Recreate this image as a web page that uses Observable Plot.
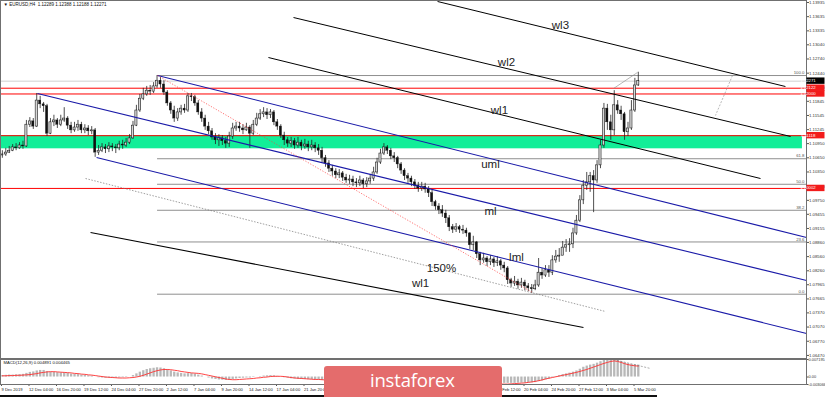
<!DOCTYPE html>
<html>
<head>
<meta charset="utf-8">
<script src="https://cdn.jsdelivr.net/npm/d3@7"></script>
<script src="https://cdn.jsdelivr.net/npm/@observablehq/plot@0.6"></script>
<style>
  html, body { margin:0; padding:0; background:#fff; }
  #chart { position:relative; width:825px; height:397px; overflow:hidden; background:#fff; }
  #chart svg { position:absolute; left:0; overflow:visible; }
  #wm { position:absolute; left:324px; top:366px; width:178px; height:31px; background:#e46c6c; border-radius:3px 3px 0 0; }
  #wm span { position:absolute; left:46px; top:0px; font-family:"Open Sans", sans-serif; font-size:18.5px; color:#fff; letter-spacing:-0.2px; line-height:27px; white-space:nowrap; }
  #baseline { position:absolute; left:0; top:395px; width:657px; height:1.5px; background:#111; }
</style>
</head>
<body>
<div id="chart"></div>
<script>
// ---------------- DATA ----------------
const titleText = "\u25BC EURUSD,H4  1.12289 1.12388 1.12188 1.12271";
const macdTitle = "MACD(12,26,9) 0.004891 0.004465";

// 8-hour candles (each spans two H4 bars)
const firstOpen = 1.1070;
const closes = [
1.1072,1.1076,1.1080,1.1087,1.1085,1.1091,1.1089,1.1135,1.1142,1.1131,
1.1186,1.1178,1.1174,1.1116,1.1140,1.1144,1.1135,1.1144,1.1148,1.1133,
1.1123,1.1129,1.1135,1.1123,1.1127,1.1121,1.1123,1.1076,1.1080,1.1087,
1.1083,1.1089,1.1087,1.1085,1.1093,1.1091,1.1097,1.1106,1.1133,1.1165,
1.1190,1.1199,1.1207,1.1205,1.1216,1.1228,1.1220,1.1203,1.1180,1.1165,
1.1148,1.1161,1.1169,1.1165,1.1195,1.1193,1.1180,1.1161,1.1148,1.1131,
1.1121,1.1108,1.1102,1.1106,1.1100,1.1095,1.1110,1.1127,1.1131,1.1127,
1.1123,1.1129,1.1116,1.1135,1.1148,1.1157,1.1161,1.1155,1.1161,1.1140,
1.1131,1.1112,1.1102,1.1095,1.1100,1.1091,1.1097,1.1089,1.1093,1.1087,
1.1091,1.1085,1.1080,1.1064,1.1053,1.1042,1.1036,1.1028,1.1032,1.1023,
1.1017,1.1019,1.1013,1.1011,1.1017,1.1009,1.1015,1.1021,1.1034,1.1055,
1.1074,1.1087,1.1080,1.1068,1.1064,1.1051,1.1038,1.1026,1.1021,1.1013,
1.1006,1.1000,1.1004,1.0998,1.0990,1.0971,1.0962,1.0954,1.0947,1.0937,
1.0918,1.0913,1.0918,1.0913,1.0911,1.0905,1.0880,1.0886,1.0861,1.0848,
1.0852,1.0844,1.0850,1.0842,1.0846,1.0837,1.0831,1.0806,1.0799,1.0803,
1.0795,1.0801,1.0793,1.0789,1.0787,1.0795,1.0822,1.0816,1.0827,1.0822,
1.0848,1.0856,1.0858,1.0875,1.0880,1.0882,1.0905,1.0932,1.0975,1.1006,
1.1013,1.1026,1.1017,1.1049,1.1091,1.1169,1.1140,1.1123,1.1176,1.1165,
1.1157,1.1119,1.1127,1.1165,1.1218,1.1227];
const highs = [
1.1080,1.1085,1.1089,1.1093,1.1095,1.1097,1.1100,1.1144,1.1150,1.1148,
1.1201,1.1195,1.1182,1.1178,1.1148,1.1155,1.1148,1.1155,1.1171,1.1152,
1.1140,1.1140,1.1144,1.1140,1.1135,1.1133,1.1131,1.1127,1.1091,1.1095,
1.1093,1.1097,1.1095,1.1093,1.1100,1.1102,1.1106,1.1114,1.1142,1.1176,
1.1199,1.1212,1.1216,1.1218,1.1224,1.1239,1.1235,1.1228,1.1207,1.1184,
1.1174,1.1169,1.1176,1.1178,1.1201,1.1201,1.1197,1.1186,1.1169,1.1155,
1.1140,1.1127,1.1116,1.1114,1.1112,1.1108,1.1119,1.1138,1.1140,1.1140,
1.1135,1.1138,1.1133,1.1144,1.1159,1.1167,1.1171,1.1169,1.1167,1.1165,
1.1146,1.1135,1.1119,1.1108,1.1108,1.1106,1.1108,1.1102,1.1104,1.1100,
1.1102,1.1097,1.1093,1.1087,1.1070,1.1059,1.1049,1.1042,1.1040,1.1036,
1.1030,1.1028,1.1026,1.1021,1.1026,1.1021,1.1023,1.1030,1.1045,1.1064,
1.1083,1.1095,1.1091,1.1085,1.1076,1.1068,1.1055,1.1042,1.1032,1.1026,
1.1019,1.1013,1.1013,1.1011,1.1004,1.0996,1.0975,1.0968,1.0964,1.0954,
1.0943,1.0924,1.0926,1.0922,1.0922,1.0916,1.0907,1.0899,1.0888,1.0865,
1.0863,1.0856,1.0858,1.0854,1.0856,1.0850,1.0844,1.0835,1.0810,1.0814,
1.0808,1.0810,1.0806,1.0799,1.0797,1.0806,1.0852,1.0831,1.0837,1.0837,
1.0858,1.0869,1.0873,1.0888,1.0892,1.0894,1.0916,1.0943,1.0985,1.1017,
1.1034,1.1034,1.1038,1.1059,1.1102,1.1180,1.1178,1.1155,1.1207,1.1186,
1.1174,1.1161,1.1140,1.1186,1.1233,1.1246];
const lows = [
1.1064,1.1068,1.1074,1.1078,1.1080,1.1083,1.1083,1.1087,1.1129,1.1125,
1.1129,1.1169,1.1161,1.1110,1.1114,1.1131,1.1127,1.1131,1.1140,1.1125,
1.1116,1.1119,1.1121,1.1116,1.1116,1.1112,1.1114,1.1066,1.1070,1.1076,
1.1074,1.1076,1.1078,1.1074,1.1080,1.1083,1.1087,1.1093,1.1104,1.1131,
1.1161,1.1186,1.1195,1.1197,1.1201,1.1212,1.1212,1.1197,1.1174,1.1157,
1.1140,1.1142,1.1155,1.1159,1.1161,1.1184,1.1174,1.1155,1.1140,1.1123,
1.1114,1.1102,1.1093,1.1089,1.1091,1.1085,1.1087,1.1104,1.1121,1.1119,
1.1114,1.1121,1.1085,1.1112,1.1131,1.1144,1.1150,1.1146,1.1148,1.1133,
1.1123,1.1106,1.1091,1.1087,1.1087,1.1083,1.1085,1.1080,1.1083,1.1078,
1.1080,1.1076,1.1070,1.1055,1.1045,1.1034,1.1026,1.1021,1.1021,1.1015,
1.1011,1.1009,1.1004,1.1002,1.1004,1.1000,1.1002,1.1009,1.1015,1.1030,
1.1051,1.1070,1.1072,1.1061,1.1055,1.1042,1.1030,1.1017,1.1011,1.1004,
1.0998,1.0992,1.0994,1.0990,1.0981,1.0962,1.0954,1.0945,1.0939,1.0926,
1.0909,1.0905,1.0907,1.0905,1.0903,1.0897,1.0871,1.0869,1.0852,1.0837,
1.0842,1.0835,1.0837,1.0833,1.0835,1.0827,1.0822,1.0797,1.0791,1.0793,
1.0787,1.0789,1.0784,1.0782,1.0778,1.0784,1.0791,1.0808,1.0812,1.0812,
1.0816,1.0842,1.0844,1.0858,1.0865,1.0865,1.0873,1.0901,1.0928,1.0966,
1.0996,1.0992,1.0949,1.1011,1.1042,1.1085,1.1123,1.1102,1.1112,1.1157,
1.1144,1.1102,1.1110,1.1123,1.1161,1.1216];

// MACD main (histogram) and signal, one value per 8h candle
const macdHist = [
0.0006,0.0007,0.0008,0.0008,0.0009,0.0010,0.0011,0.0015,
0.0019,0.0021,0.0025,0.0027,0.0027,0.0022,0.0020,0.0019,0.0018,
0.0017,0.0017,0.0015,0.0012,0.0011,0.0010,0.0008,0.0007,0.0005,0.0004,
0.0000,-0.0003,-0.0004,-0.0005,-0.0005,-0.0005,-0.0005,-0.0004,-0.0003,-0.0002,0.0000,
0.0006,0.0013,0.0020,0.0026,0.0031,0.0034,0.0036,0.0038,0.0037,0.0034,
0.0030,0.0025,0.0020,0.0017,0.0015,0.0013,0.0014,0.0014,0.0012,
0.0008,0.0004,0.0000,-0.0004,-0.0008,-0.0010,-0.0012,-0.0013,-0.0014,-0.0013,
-0.0010,-0.0008,-0.0006,-0.0005,-0.0004,-0.0004,-0.0002,0.0000,0.0002,
0.0004,0.0005,0.0006,0.0005,0.0003,0.0000,-0.0003,
-0.0005,-0.0007,-0.0008,-0.0009,-0.0010,-0.0010,-0.0011,-0.0011,-0.0012,-0.0012,-0.0014,
-0.0015,-0.0017,-0.0019,-0.0021,-0.0022,-0.0023,-0.0024,-0.0025,-0.0025,-0.0025,-0.0024,-0.0023,-0.0021,-0.0019,-0.0016,-0.0012,-0.0008,
-0.0005,-0.0003,-0.0003,-0.0004,-0.0005,-0.0007,-0.0009,-0.0011,-0.0013,-0.0015,-0.0016,-0.0017,-0.0018,-0.0019,-0.0020,-0.0021,-0.0022,-0.0023,-0.0024,-0.0026,
-0.0027,-0.0028,-0.0028,-0.0029,-0.0029,-0.0030,-0.0030,-0.0030,-0.0030,-0.0029,-0.0029,-0.0028,-0.0028,-0.0027,-0.0027,-0.0026,
-0.0026,-0.0026,-0.0026,-0.0025,-0.0025,-0.0025,-0.0024,-0.0024,-0.0023,-0.0019,-0.0016,
-0.0012,-0.0008,-0.0003,0.0002,0.0006,0.0010,0.0013,0.0016,
0.0020,0.0025,0.0032,0.0040,0.0045,0.0049,0.0052,0.0057,0.0063,0.0070,
0.0071,0.0072,0.0072,0.0068,0.0063,0.0058,0.0054,0.0051,0.0050,0.0049];
const macdSignal = [
0.0005,0.0005,0.0006,0.0006,0.0007,0.0007,0.0008,0.0009,
0.0010,0.0012,0.0014,0.0017,0.0019,0.0021,0.0022,0.0022,0.0021,
0.0020,0.0019,0.0018,0.0017,0.0015,0.0014,0.0012,0.0011,0.0009,0.0008,
0.0006,0.0004,0.0002,0.0000,-0.0001,-0.0002,-0.0003,-0.0004,-0.0004,-0.0004,-0.0003,
-0.0002,0.0000,0.0003,0.0007,0.0012,0.0017,0.0022,0.0026,0.0029,0.0031,
0.0031,0.0030,0.0028,0.0026,0.0023,0.0021,0.0019,0.0017,0.0016,
0.0015,0.0013,0.0010,0.0007,0.0004,0.0001,-0.0002,-0.0005,-0.0008,-0.0010,
-0.0011,-0.0011,-0.0010,-0.0009,-0.0008,-0.0007,-0.0006,-0.0004,-0.0003,
-0.0001,0.0000,0.0002,0.0003,0.0003,0.0003,0.0002,
0.0000,-0.0002,-0.0004,-0.0005,-0.0006,-0.0007,-0.0008,-0.0009,-0.0010,-0.0010,-0.0011,
-0.0012,-0.0013,-0.0015,-0.0016,-0.0018,-0.0019,-0.0021,-0.0022,-0.0023,-0.0024,-0.0024,-0.0024,-0.0024,-0.0023,-0.0022,-0.0021,-0.0019,
-0.0017,-0.0014,-0.0012,-0.0010,-0.0008,-0.0007,-0.0007,-0.0008,-0.0009,-0.0010,-0.0012,-0.0013,-0.0014,-0.0016,-0.0017,-0.0018,-0.0019,-0.0020,-0.0021,-0.0022,
-0.0023,-0.0024,-0.0025,-0.0026,-0.0027,-0.0028,-0.0028,-0.0029,-0.0029,-0.0029,-0.0030,-0.0030,-0.0030,-0.0029,-0.0029,-0.0029,
-0.0029,-0.0028,-0.0027,-0.0026,-0.0025,-0.0024,-0.0022,-0.0020,-0.0018,-0.0015,-0.0012,
-0.0008,-0.0005,-0.0002,0.0001,0.0004,0.0007,0.0010,0.0013,
0.0016,0.0019,0.0023,0.0027,0.0031,0.0036,0.0041,0.0046,0.0051,0.0056,
0.0060,0.0064,0.0066,0.0064,0.0060,0.0055,0.0051,0.0048,0.0046,0.0045];
const macdTicks = [0.007195, 0, -0.003066];
const macdTickLabels = ["0.007195", "0.00", "-0.003066"];
const macdTrendBars = [356.1, 377.6];
const macdTrendValues = [0.0072, 0.0035];

// Time axis (H4 bar index of each label)
const timeTickBars = [0,16,32,48,64,80,96,112,128,144,160,176,192,208,224,240,256,272,288,304,320,336,352,368];
const timeLabels = ["9 Dec 2019","12 Dec 04:00","16 Dec 20:00","19 Dec 12:00","24 Dec 04:00","27 Dec 20:00",
  "2 Jan 12:00","7 Jan 04:00","9 Jan 20:00","14 Jan 12:00","17 Jan 04:00","21 Jan 20:00",
  "24 Jan 12:00","29 Jan 04:00","31 Jan 20:00","5 Feb 12:00","10 Feb 04:00","12 Feb 20:00",
  "17 Feb 12:00","20 Feb 04:00","24 Feb 20:00","27 Feb 12:00","3 Mar 04:00","5 Mar 20:00"];

// Price axis
const priceTicks = [1.13935,1.13635,1.13335,1.13040,1.12740,1.12440,1.12140,1.11845,1.11545,1.11245,
  1.10950,1.10650,1.10350,1.10050,1.09750,1.09455,1.09155,1.08860,1.08560,1.08260,
  1.07965,1.07665,1.07370,1.07070,1.06770,1.06470];
const priceDomain = [1.06405, 1.13977];
const barDomain = [-0.58, 468.36];

// Horizontal levels
const redLevels = [1.12122, 1.12000, 1.11118, 1.10002];
const currentPrice = 1.12271;
const zoneTop = 1.1112, zoneBottom = 1.1084;
const fibLevels = [1.1239, 1.1063, 1.1009, 1.0954, 1.0887, 1.07765];
const fibNames = ["100.0", "61.8", "50.0", "38.2", "23.6", "0.0"];
const fibStartBar = 90.8;

// Pitchfork / trend lines: anchor (bar, price) pairs
const lineNames  = ["wl3","wl2","wl1u","uml","ml","lml","p150","wl1l","fibTrend","arcA","arcB"];
const lineBar1   = [253.7, 169.9, 155.3, 90.8, 20.9, 55.3, 48.9, 51.8, 90.8, 356.1, 425.3];
const linePrice1 = [1.13956,1.13617,1.12771,1.12391,1.12010,1.10656,1.10212,1.09070,1.12391,1.12116,1.12391];
const lineBar2   = [456.1, 459.1, 441.6, 468.4, 468.4, 468.4, 351.4, 338.6, 309.0, 370.0, 415.4];
const linePrice2 = [1.12158,1.11101,1.10212,1.08965,1.08055,1.06934,1.07399,1.07061,1.07801,1.12454,1.11545];

const labelTexts  = ["wl3","wl2","wl1","uml","ml","lml","150%","wl1"];
const labelBars   = [325.2, 293.8, 289.7, 284.5, 284.5, 299.6, 256.0, 243.8];
const labelPrices = [1.1345, 1.1267, 1.1165, 1.1051, 1.0952, 1.0854, 1.0831, 1.0799];

// ---------------- STYLES ----------------
const lineStyle = {
  wl3:  {stroke:"#000", w:1},
  wl2:  {stroke:"#000", w:1},
  wl1u: {stroke:"#000", w:1},
  uml:  {stroke:"#1a1aa8", w:1.1},
  ml:   {stroke:"#1a1aa8", w:1.1},
  lml:  {stroke:"#1a1aa8", w:1.1},
  p150: {stroke:"#777", w:0.7, dash:"1.5,1.5"},
  wl1l: {stroke:"#000", w:1.1},
  fibTrend: {stroke:"#ff3b3b", w:0.7, dash:"1.2,1.6"},
  arcA: {stroke:"#888", w:0.6},
  arcB: {stroke:"#888", w:0.6, dash:"2,1.5"}
};
const FONT = "'Liberation Sans', Arial, sans-serif";

// ---------------- BUILD ----------------
const candles = closes.map((c, i) => ({
  bar: i * 2 + 0.5,
  open: i === 0 ? firstOpen : closes[i - 1],
  close: c, high: highs[i], low: lows[i]
}));
const up = candles.filter(d => d.close >= d.open);
const down = candles.filter(d => d.close < d.open);
const macdRows = macdHist.map((h, i) => ({bar: i * 2 + 0.5, hist: h, signal: macdSignal[i]}));

const lineMarks = lineNames.map((n, k) => {
  const s = lineStyle[n];
  return Plot.link([k], {
    x1: i => lineBar1[i], y1: i => linePrice1[i],
    x2: i => lineBar2[i], y2: i => linePrice2[i],
    stroke: s.stroke, strokeWidth: s.w, strokeDasharray: s.dash || null
  });
});

const main = Plot.plot({
  width: 825, height: 358,
  marginTop: 0, marginRight: 19, marginBottom: 0, marginLeft: 0,
  x: {domain: barDomain, axis: null},
  y: {domain: priceDomain},
  style: {fontFamily: FONT, fontSize: "4.3px", color: "#222", background: "transparent", overflow: "visible"},
  marks: [
    Plot.rect([0], {x1: () => barDomain[0], x2: () => 466, y1: () => zoneBottom, y2: () => zoneTop, fill: "#12ee98"}),
    Plot.ruleY([currentPrice], {stroke: "#d0d0d0", strokeWidth: 1}),
    Plot.ruleY(fibLevels, {y: d => d, x1: () => fibStartBar, x2: () => barDomain[1], stroke: "#8f8f8f", strokeWidth: 1}),
    Plot.ruleY(redLevels, {y: d => d, stroke: "#ff0000", strokeWidth: 1}),
    Plot.ruleX(candles, {x: "bar", y1: "low", y2: "high", stroke: "#222", strokeWidth: 0.8}),
    Plot.rect(down, {x1: d => d.bar - 0.62, x2: d => d.bar + 0.62, y1: "open", y2: "close", fill: "#111", stroke: "#111", strokeWidth: 0.4}),
    Plot.rect(up, {x1: d => d.bar - 0.62, x2: d => d.bar + 0.62, y1: "open", y2: "close", fill: "#d6d6d6", stroke: "#111", strokeWidth: 0.55}),
    ...lineMarks,
    Plot.text(labelTexts.map((t, i) => i), {x: i => labelBars[i], y: i => labelPrices[i], text: i => labelTexts[i],
      fontSize: 11.5, fill: "#222", fontFamily: FONT}),
    Plot.text(fibNames.map((t, i) => i), {x: () => barDomain[1], y: i => fibLevels[i], text: i => fibNames[i],
      textAnchor: "end", dx: -2, dy: -2.8, fontSize: 4.3, fill: "#555"}),
    Plot.text([titleText], {text: d => d, frameAnchor: "top-left", dx: 3, dy: 2, fontSize: 4.5, fill: "#111"}),
    Plot.axisY({anchor: "right", ticks: priceTicks, tickFormat: d => d.toFixed(5), tickSize: 2, tickPadding: 0.5,
      fontSize: 4.3, label: null, fill: "#333", stroke: "#555"}),
    Plot.frame({stroke: "#707070", strokeWidth: 1})
  ]
});
main.style.top = "0px";

// price boxes on the right axis, positioned through Plot's scales
const yS = main.scale("y"), xS = main.scale("x");
const axisX0 = xS.range[1];
const boxes = [{v: currentPrice, fill: "#000"}].concat(redLevels.map(v => ({v, fill: "#f21b1b"})));
const g = d3.select(main).append("g");
boxes.forEach(b => {
  const yy = yS.apply(b.v);
  g.append("rect").attr("x", axisX0 + 0.5).attr("y", yy - 3.2).attr("width", 18).attr("height", 6.4).attr("fill", b.fill);
  g.append("text").attr("x", axisX0 + 2).attr("y", yy + 1.5).attr("fill", "#fff")
    .attr("font-size", 4.3).attr("font-family", FONT).text(b.v.toFixed(5));
});

const macd = Plot.plot({
  width: 825, height: 39,
  marginTop: 1, marginRight: 19, marginBottom: 13, marginLeft: 0,
  x: {domain: barDomain},
  y: {domain: [macdTicks[2], macdTicks[0]]},
  style: {fontFamily: FONT, fontSize: "4.2px", color: "#222", background: "transparent", overflow: "visible"},
  marks: [
    Plot.ruleX(macdRows, {x: "bar", y1: () => 0, y2: "hist", stroke: "#b8b8b8", strokeWidth: 2.3}),
    Plot.line(macdRows, {x: "bar", y: "signal", stroke: "#ff3030", strokeWidth: 0.9}),
    Plot.link([0], {x1: () => macdTrendBars[0], y1: () => macdTrendValues[0], x2: () => macdTrendBars[1], y2: () => macdTrendValues[1],
      stroke: "#777", strokeWidth: 0.6, strokeDasharray: "2,1.5"}),
    Plot.text([macdTitle], {text: d => d, frameAnchor: "top-left", dx: 3, dy: 2, fontSize: 4.2, fill: "#111"}),
    Plot.axisY({anchor: "right", ticks: macdTicks, tickFormat: d => macdTickLabels[macdTicks.indexOf(d)],
      tickSize: 1.5, tickPadding: 0.5, fontSize: 3.9, label: null, fill: "#333", stroke: "#555"}),
    Plot.axisX({anchor: "bottom", ticks: timeTickBars, tickFormat: d => timeLabels[timeTickBars.indexOf(d)],
      tickSize: 2, tickPadding: 1.5, textAnchor: "start", fontSize: 4.1, label: null, fill: "#222", stroke: "#555"}),
    Plot.frame({stroke: "#707070", strokeWidth: 1})
  ]
});
macd.style.top = "358px";

const chart = document.getElementById("chart");
chart.appendChild(main);
chart.appendChild(macd);
const base = document.createElement("div"); base.id = "baseline"; chart.appendChild(base);
const wm = document.createElement("div"); wm.id = "wm";
wm.innerHTML = "<span>instaforex</span>";
chart.appendChild(wm);
</script>
</body>
</html>
